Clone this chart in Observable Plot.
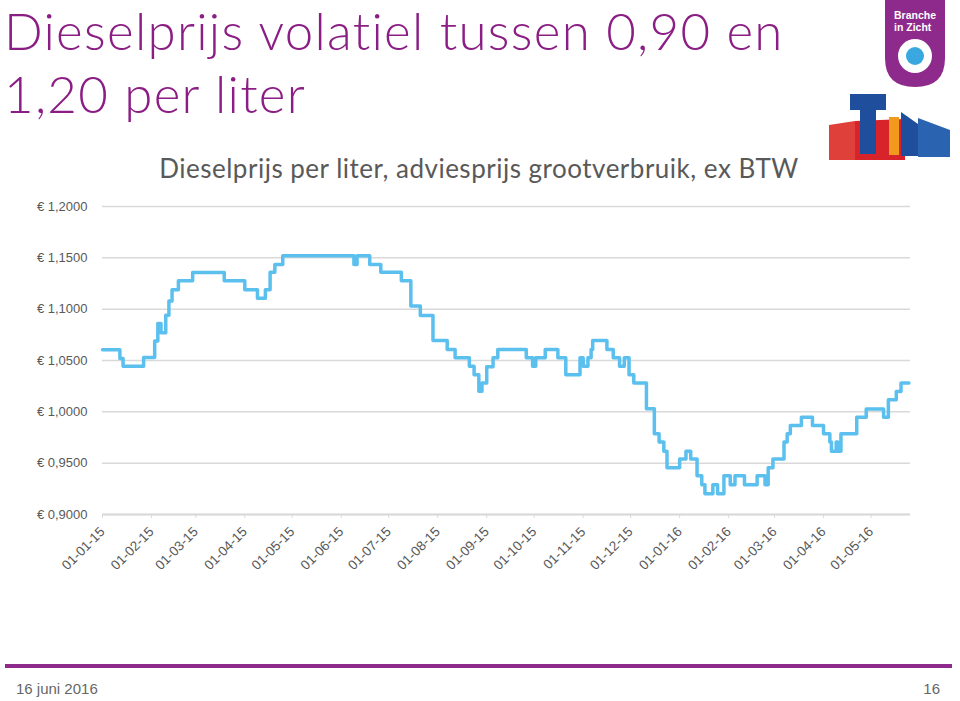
<!DOCTYPE html>
<html>
<head>
<meta charset="utf-8">
<script src="https://cdn.jsdelivr.net/npm/d3@7"></script>
<script src="https://cdn.jsdelivr.net/npm/@observablehq/plot@0.6"></script>
<style>
  html, body { margin: 0; padding: 0; background: #fff; }
  #page { position: relative; width: 960px; height: 701px; overflow: hidden; background: #fff; }
  .title { position: absolute; left: 4px; font-family: Lato, "Open Sans", sans-serif; font-weight: 300; font-size: 51px; line-height: 61px; letter-spacing: 1.3px; color: #8B1E84; white-space: nowrap; }
  #title1 { top: 0px; }
  #title2 { top: 63px; }
  #subtitle { position: absolute; left: 0; width: 958px; top: 152px; text-align: center; font-family: Lato, "Open Sans", sans-serif; font-size: 26px; letter-spacing: 0.5px; color: #595959; white-space: nowrap; }
  #chart { position: absolute; left: 0; top: 190px; }
  #footer-line { position: absolute; left: 5px; top: 664px; width: 947px; height: 4px; background: #8E2A8B; }
  #footer-date { position: absolute; left: 16px; top: 680px; font-family: "Liberation Sans Narrow", "Liberation Sans", Arial, sans-serif; font-size: 15px; color: #666; }
  #footer-page { position: absolute; right: 20px; top: 680px; font-family: "Liberation Sans Narrow", "Liberation Sans", Arial, sans-serif; font-size: 15px; color: #666; }
  #logos { position: absolute; left: 0; top: 0; }
</style>
</head>
<body>
<div id="page">
  <div class="title" id="title1">Dieselprijs volatiel tussen 0,90 en</div>
  <div class="title" id="title2">1,20 per liter</div>
  <div id="subtitle">Dieselprijs per liter, adviesprijs grootverbruik, ex BTW</div>
  <div id="chart"></div>
  <svg id="logos" width="960" height="170">
    <path d="M885,0 H945 V58 Q945,87 915,87 Q885,87 885,58 Z" fill="#8E2A8B"/>
    <text x="894" y="19" fill="#fff" font-family="Liberation Sans, Arial, sans-serif" font-weight="bold" font-size="10.5">Branche</text>
    <text x="894" y="31" fill="#fff" font-family="Liberation Sans, Arial, sans-serif" font-weight="bold" font-size="10.5">in Zicht</text>
    <circle cx="915" cy="56" r="17" fill="#fff"/>
    <circle cx="915" cy="56" r="9" fill="#3AA8E0"/>
    <polygon points="829,125 855,121 855,160 829,160" fill="#E0403A"/>
    <polygon points="855,121 905,119 905,160 855,160" fill="#D8232A"/>
    <rect x="850" y="94" width="36" height="16" fill="#1F4E9C"/>
    <rect x="860" y="94" width="16" height="60" fill="#1F4E9C"/>
    <rect x="889" y="117" width="10" height="38" fill="#F29A1E"/>
    <polygon points="901,112 918,124 918,156 901,156" fill="#1F4E9C"/>
    <polygon points="918,118 950,130 950,157 918,157" fill="#2A63B0"/>
  </svg>
  <div id="footer-line"></div>
  <div id="footer-date">16 juni 2016</div>
  <div id="footer-page">16</div>
</div>
<script>
// Change points of the diesel price (step line)
const dates = [
  "2015-01-01","2015-01-12","2015-01-14","2015-01-27","2015-02-03","2015-02-05","2015-02-07","2015-02-10",
  "2015-02-12","2015-02-14","2015-02-18","2015-02-27","2015-03-19","2015-04-01","2015-04-09","2015-04-14",
  "2015-04-17","2015-04-20","2015-04-25","2015-06-09","2015-06-11","2015-06-19","2015-06-26","2015-07-09",
  "2015-07-15","2015-07-21","2015-07-29","2015-08-07","2015-08-12","2015-08-21","2015-08-24","2015-08-27",
  "2015-08-29","2015-09-01","2015-09-05","2015-09-08","2015-09-26","2015-09-30","2015-10-02","2015-10-08",
  "2015-10-16","2015-10-21","2015-10-30","2015-11-01","2015-11-04","2015-11-06","2015-11-07","2015-11-16",
  "2015-11-20","2015-11-24","2015-11-27","2015-11-30","2015-12-03","2015-12-11","2015-12-16","2015-12-19",
  "2015-12-22","2015-12-24","2016-01-01","2016-01-05","2016-01-08","2016-01-12","2016-01-15","2016-01-17",
  "2016-01-22","2016-01-25","2016-01-29","2016-02-02","2016-02-05","2016-02-11","2016-02-19","2016-02-24",
  "2016-02-26","2016-02-29","2016-03-07","2016-03-09","2016-03-11","2016-03-18","2016-03-25","2016-04-01",
  "2016-04-05","2016-04-06","2016-04-09","2016-04-10","2016-04-12","2016-04-22","2016-04-28","2016-05-09",
  "2016-05-12","2016-05-17","2016-05-20","2016-05-25"
];
const prices = [
  1.0605,1.0520,1.0445,1.0530,1.0690,1.0860,1.0770,1.0940,
  1.1080,1.1190,1.1276,1.1357,1.1276,1.1190,1.1107,1.1190,
  1.1360,1.1435,1.1520,1.1435,1.1520,1.1435,1.1360,1.1276,
  1.1030,1.0938,1.0695,1.0607,1.0526,1.0445,1.0360,1.0200,
  1.0280,1.0440,1.0526,1.0607,1.0526,1.0445,1.0526,1.0607,
  1.0526,1.0360,1.0526,1.0445,1.0526,1.0607,1.0695,1.0607,
  1.0526,1.0445,1.0526,1.0360,1.0280,1.0030,0.9786,0.9705,
  0.9617,0.9455,0.9540,0.9617,0.9540,0.9377,0.9290,0.9201,
  0.9290,0.9201,0.9377,0.9290,0.9377,0.9290,0.9377,0.9290,
  0.9455,0.9540,0.9705,0.9786,0.9867,0.9948,0.9867,0.9786,
  0.9705,0.9617,0.9705,0.9617,0.9786,0.9948,1.0028,0.9948,
  1.0117,1.0198,1.0280,1.0280
];
const monthTicks = [
  "2015-01-01","2015-02-01","2015-03-01","2015-04-01","2015-05-01","2015-06-01","2015-07-01","2015-08-01",
  "2015-09-01","2015-10-01","2015-11-01","2015-12-01","2016-01-01","2016-02-01","2016-03-01","2016-04-01","2016-05-01"
];
const yTicks = [0.90, 0.95, 1.00, 1.05, 1.10, 1.15, 1.20];

const data = dates.map((d, i) => ({date: new Date(d), price: prices[i]}));
const xTicks = monthTicks.map(d => new Date(d));
const fmtX = d3.utcFormat("%d-%m-%y");
const fmtY = v => "€ " + v.toFixed(4).replace(".", ",");

const chart = Plot.plot({
  width: 960,
  height: 400,
  marginLeft: 102,
  marginRight: 50,
  marginTop: 16,
  marginBottom: 76,
  style: {fontFamily: "Liberation Sans, Arial, sans-serif", fontSize: "13px", color: "#595959", background: "transparent"},
  x: {type: "utc", domain: [new Date("2015-01-01"), new Date("2016-05-26")], label: null},
  y: {domain: [0.9, 1.2], label: null},
  marks: [
    Plot.gridY(yTicks, {stroke: "#d9d9d9", strokeOpacity: 1, strokeWidth: 1.5}),
    Plot.ruleY([0.9], {stroke: "#d9d9d9", strokeWidth: 2}),
    Plot.axisY({ticks: yTicks, tickFormat: fmtY, tickSize: 0, tickPadding: 15, fontSize: 13, fill: "#595959"}),
    Plot.axisX({ticks: xTicks, tickFormat: fmtX, tickRotate: -45, tickSize: 4, tickPadding: 11, stroke: "#d9d9d9", fontSize: 13.5, fill: "#595959"}),
    Plot.lineY(data, {x: "date", y: "price", curve: "step-after", stroke: "#5BC0EE", strokeWidth: 3.5, strokeLinejoin: "round"})
  ]
});
document.getElementById("chart").appendChild(chart);
</script>
</body>
</html>
